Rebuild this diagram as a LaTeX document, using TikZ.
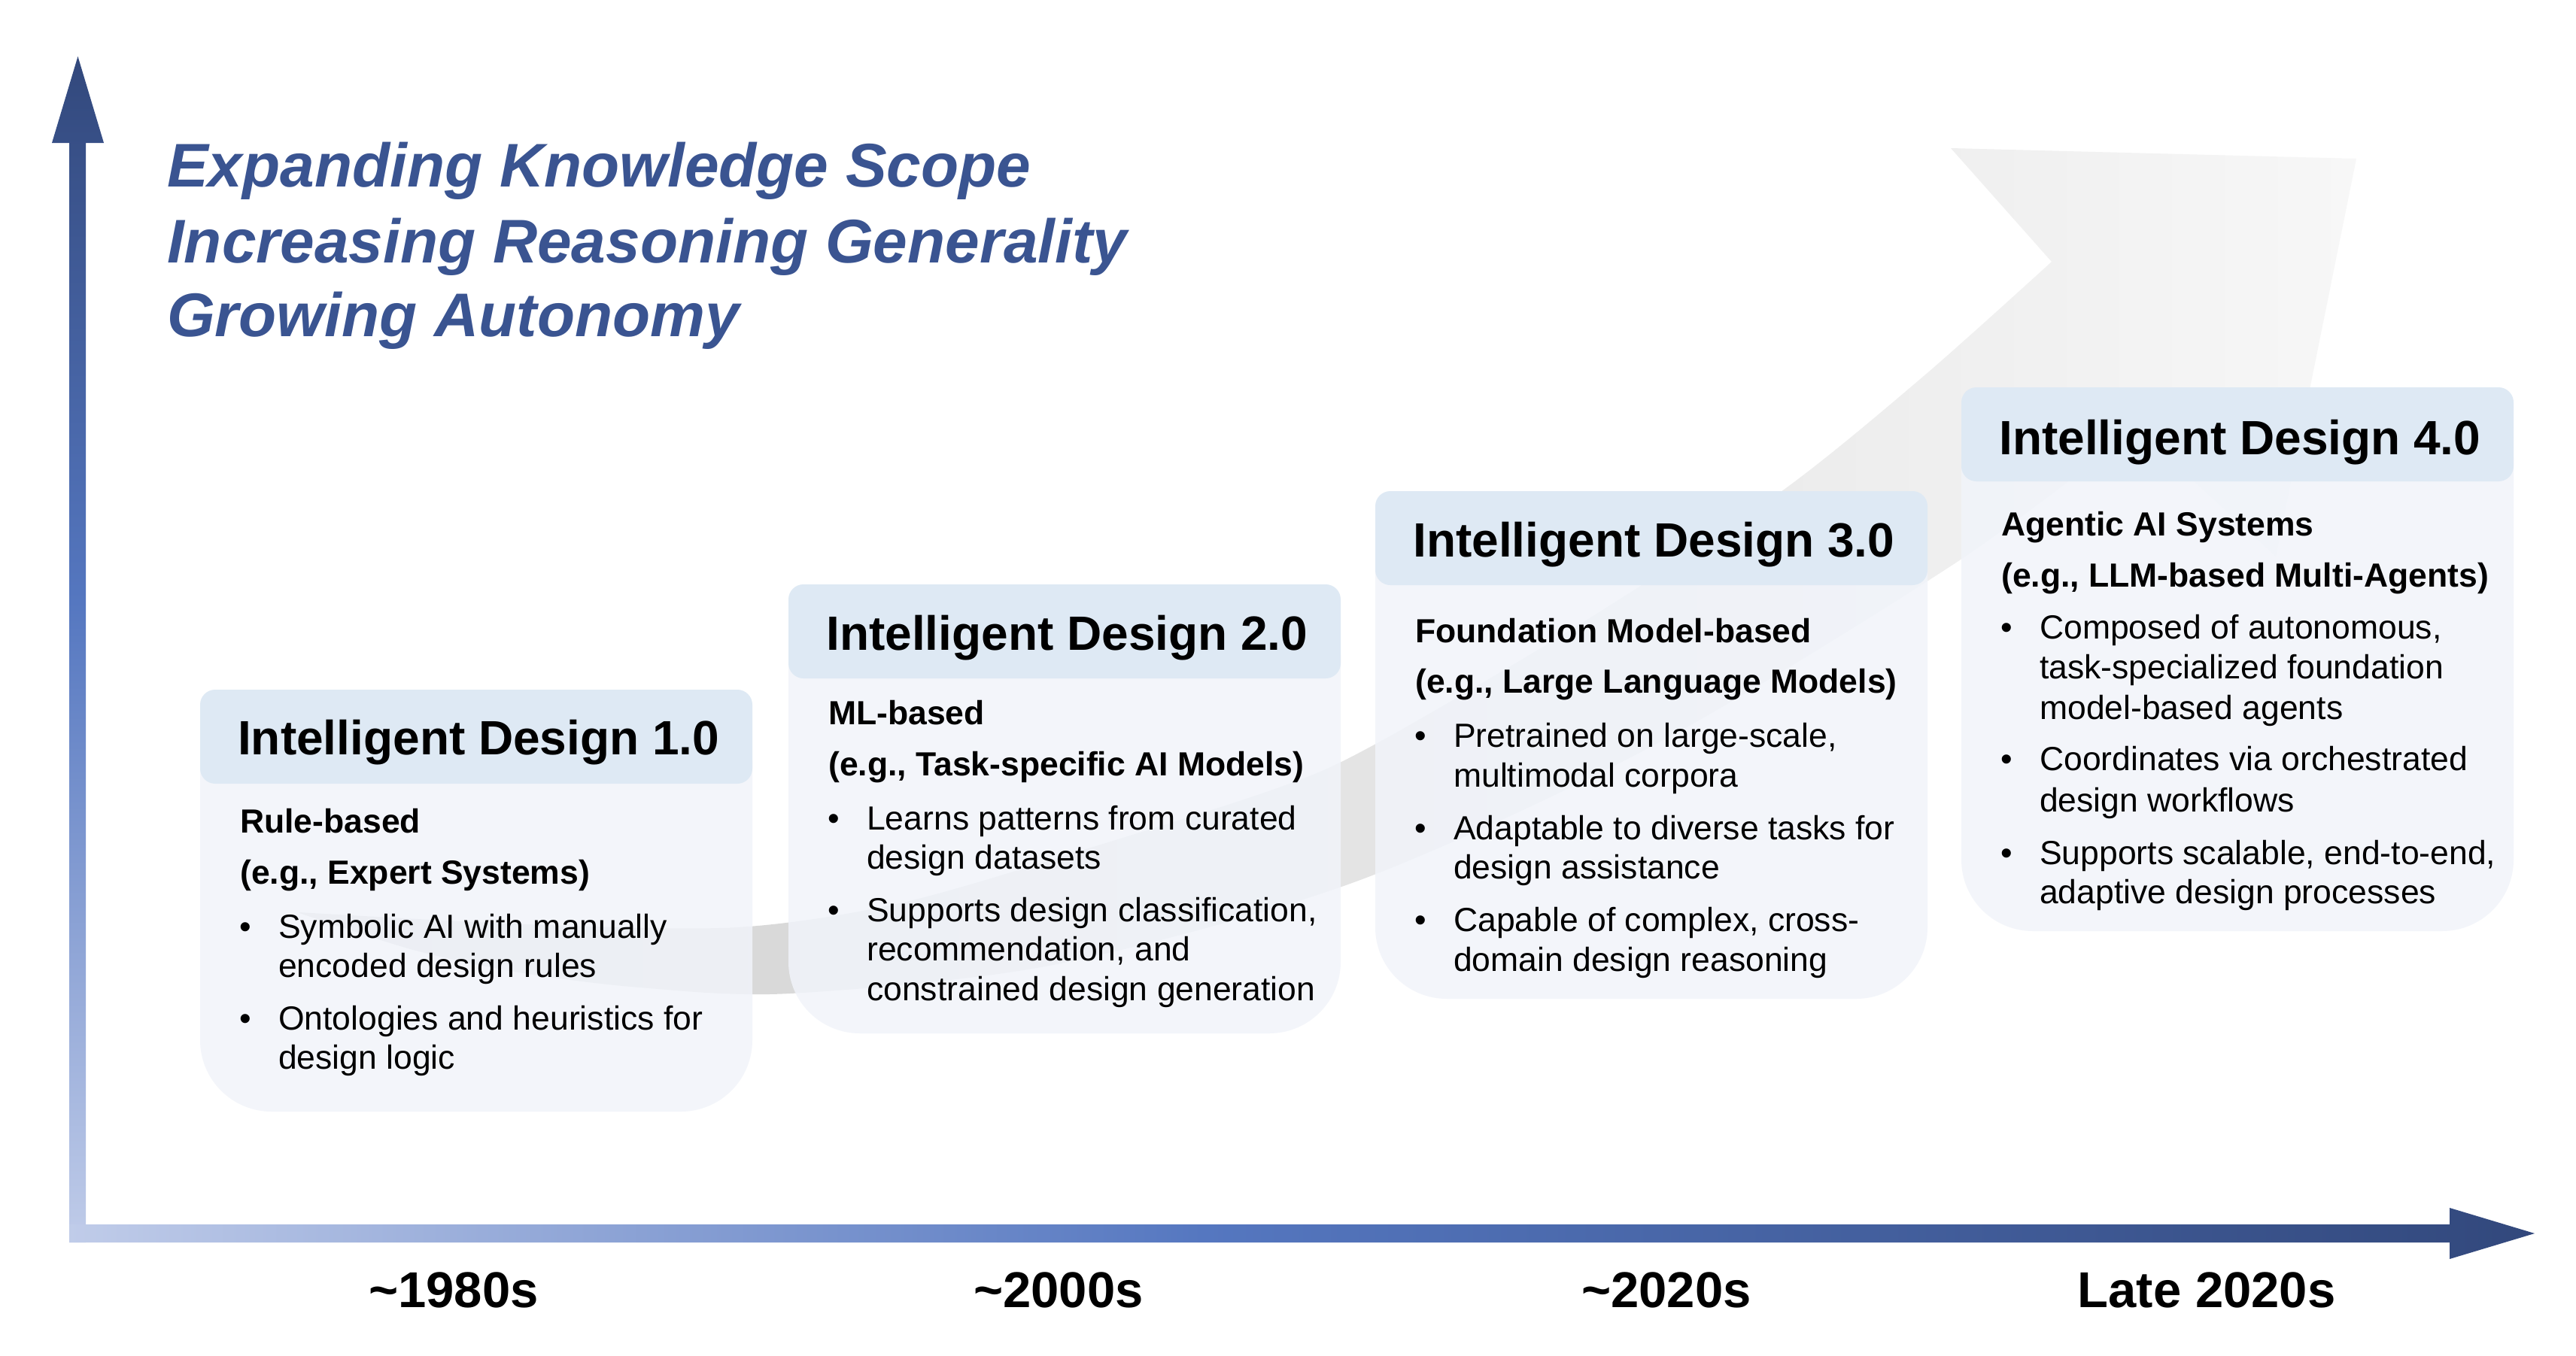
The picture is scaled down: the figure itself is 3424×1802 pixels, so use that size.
\documentclass[tikz,border=0pt]{standalone}
\usepackage{fontspec}
\setmainfont{Liberation Sans}
\definecolor{titlec}{RGB}{58,84,145}
\definecolor{headc}{RGB}{222,233,244}
\definecolor{bodyc}{RGB}{241,244,250}
\definecolor{axL}{RGB}{192,204,233}
\definecolor{axM}{RGB}{85,119,192}
\definecolor{axD}{RGB}{50,72,124}
\definecolor{ribL}{RGB}{208,208,208}
\definecolor{ribR}{RGB}{247,247,247}
\pgfdeclarehorizontalshading{haxis}{100bp}{color(0bp)=(axL); color(25bp)=(axL); color(48bp)=(axM); color(75bp)=(axD); color(100bp)=(axD)}
\pgfdeclareverticalshading{vaxis}{100bp}{color(0bp)=(axL); color(25bp)=(axL); color(52bp)=(axM); color(75bp)=(axD); color(100bp)=(axD)}
\tikzset{
  bigtitle/.style={inner sep=0pt, anchor=base west, text=titlec, font=\fontsize{82}{100}\selectfont\bfseries\itshape},
  boxtitle/.style={inner sep=0pt, anchor=base west, font=\fontsize{64}{70}\selectfont\bfseries},
  subline/.style={inner sep=0pt, anchor=base west, font=\fontsize{44.5}{50}\selectfont\bfseries},
  itemline/.style={inner sep=0pt, anchor=base west, font=\fontsize{44.5}{50}\selectfont},
  bulletdot/.style={inner sep=0pt, anchor=base, font=\fontsize{44.5}{50}\selectfont},
  era/.style={inner sep=0pt, anchor=base, font=\fontsize{67}{70}\selectfont\bfseries},
  boxbody/.style={fill=bodyc, fill opacity=.85, rounded corners=95pt},
  boxhead/.style={fill=headc, rounded corners=20pt},
}
\begin{document}
\begin{tikzpicture}[x=1pt,y=-1pt]
\useasboundingbox[fill=white] (0,0) rectangle (3424,1802);

% background swoosh arrow
\shade[left color=ribL, right color=ribR]
  plot[smooth, tension=0.5] coordinates {(398,1213) (700,1229) (980,1233) (1200,1200) (1450,1127) (1700,1047) (1827,990) (2100,830) (2367,654) (2557,500) (2727,348)}
  -- (2593,197) -- (3132,211) -- (3025,740)
  -- plot[smooth, tension=0.5] coordinates {(2840,570) (2600,748) (2200,990) (1800,1173) (1400,1283) (1050,1321) (850,1313) (690,1293) (549,1263) (398,1214)}
  -- cycle;

% boxes
\fill[boxbody] (266,917) rectangle (1000,1478);
\fill[boxhead] (266,917) rectangle (1000,1042);
\fill[boxbody] (1048,777) rectangle (1782,1374);
\fill[boxhead] (1048,777) rectangle (1782,902);
\fill[boxbody] (1828,653) rectangle (2562,1328);
\fill[boxhead] (1828,653) rectangle (2562,778);
\fill[boxbody] (2607,515) rectangle (3341,1238);
\fill[boxhead] (2607,515) rectangle (3341,640);

% axes
\coordinate (vtip) at (103.5,75);
\coordinate (htip) at (3369,1640);
\shade[shading=vaxis] (92,1652) -- (92,190) -- (69,190) -- (vtip) -- (138,190) -- (114,190) -- (114,1652) -- cycle;
\shade[shading=haxis] (92,1628) -- (3256,1628) -- (3256,1606) -- (htip) -- (3256,1674) -- (3256,1652) -- (92,1652) -- cycle;

% headline
\node[bigtitle] (h1) at (222,248) {Expanding Knowledge Scope};
\node[bigtitle] (h2) at (222,349) {Increasing Reasoning Generality};
\node[bigtitle] (h3) at (222,447) {Growing Autonomy};

% box 1
\node[boxtitle] (t1) at (316,1003) {Intelligent Design 1.0};
\node[subline] (s1a) at (319,1107) {Rule-based};
\node[subline] (s1b) at (319,1175) {(e.g., Expert Systems)};
\node[bulletdot] (d1a) at (326,1247) {•};
\node[itemline] (i1a) at (370,1247) {Symbolic AI with manually};
\node[itemline] (i1b) at (370,1299) {encoded design rules};
\node[bulletdot] (d1b) at (326,1369) {•};
\node[itemline] (i1c) at (370,1369) {Ontologies and heuristics for};
\node[itemline] (i1d) at (370,1421) {design logic};

% box 2
\node[boxtitle] (t2) at (1098,864) {Intelligent Design 2.0};
\node[subline] (s2a) at (1101,963) {ML-based};
\node[subline] (s2b) at (1101,1031) {(e.g., Task-specific AI Models)};
\node[bulletdot] (d2a) at (1108,1103) {•};
\node[itemline] (i2a) at (1152,1103) {Learns patterns from curated};
\node[itemline] (i2b) at (1152,1155) {design datasets};
\node[bulletdot] (d2b) at (1108,1225) {•};
\node[itemline] (i2c) at (1152,1225) {Supports design classification,};
\node[itemline] (i2d) at (1152,1277) {recommendation, and};
\node[itemline] (i2e) at (1152,1330) {constrained design generation};

% box 3
\node[boxtitle] (t3) at (1878,740) {Intelligent Design 3.0};
\node[subline] (s3a) at (1881,854) {Foundation Model-based};
\node[subline] (s3b) at (1881,921) {(e.g., Large Language Models)};
\node[bulletdot] (d3a) at (1888,993) {•};
\node[itemline] (i3a) at (1932,993) {Pretrained on large-scale,};
\node[itemline] (i3b) at (1932,1046) {multimodal corpora};
\node[bulletdot] (d3b) at (1888,1116) {•};
\node[itemline] (i3c) at (1932,1116) {Adaptable to diverse tasks for};
\node[itemline] (i3d) at (1932,1168) {design assistance};
\node[bulletdot] (d3c) at (1888,1238) {•};
\node[itemline] (i3e) at (1932,1238) {Capable of complex, cross-};
\node[itemline] (i3f) at (1932,1291) {domain design reasoning};

% box 4
\node[boxtitle] (t4) at (2657,604) {Intelligent Design 4.0};
\node[subline] (s4a) at (2660,712) {Agentic AI Systems};
\node[subline] (s4b) at (2660,780) {(e.g., LLM-based Multi-Agents)};
\node[bulletdot] (d4a) at (2667,849) {•};
\node[itemline] (i4a) at (2711,849) {Composed of autonomous,};
\node[itemline] (i4b) at (2711,902) {task-specialized foundation};
\node[itemline] (i4c) at (2711,956) {model-based agents};
\node[bulletdot] (d4b) at (2667,1024) {•};
\node[itemline] (i4d) at (2711,1024) {Coordinates via orchestrated};
\node[itemline] (i4e) at (2711,1079) {design workflows};
\node[bulletdot] (d4c) at (2667,1149) {•};
\node[itemline] (i4f) at (2711,1149) {Supports scalable, end-to-end,};
\node[itemline] (i4g) at (2711,1201) {adaptive design processes};

% era labels
\node[era] (e1) at (603,1738) {\char"007E 1980s};
\node[era] (e2) at (1407,1738) {\char"007E 2000s};
\node[era] (e3) at (2215,1738) {\char"007E 2020s};
\node[era] (e4) at (2933,1738) {Late 2020s};
\end{tikzpicture}
\end{document}
